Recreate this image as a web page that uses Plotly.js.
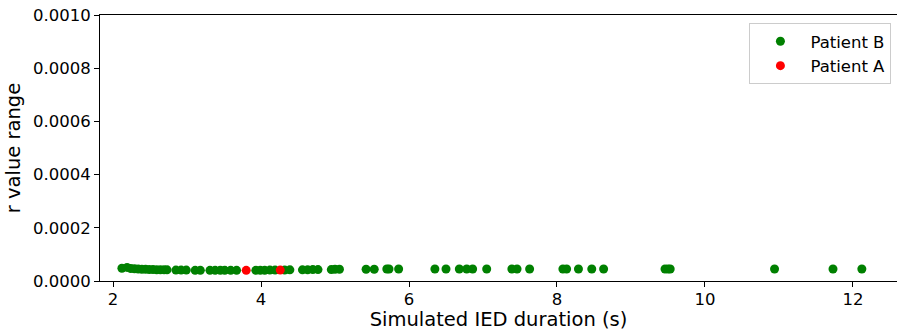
<!DOCTYPE html>
<html>
<head>
<meta charset="utf-8">
<script src="https://cdn.plot.ly/plotly-3.0.1.min.js"></script>
<style>
  html, body { margin: 0; padding: 0; background: #fff; }
  #chart { width: 897px; height: 331px; }
</style>
</head>
<body>
<div id="chart"></div>
<script>
// Simulated IED duration (s) and r value range, per patient
const durationB = [2.12, 2.19, 2.24, 2.29, 2.34, 2.39, 2.44, 2.49, 2.54, 2.59, 2.64, 2.69, 2.73,
  2.85, 2.92, 2.99, 3.11, 3.18, 3.31, 3.38, 3.45, 3.51, 3.59, 3.67,
  3.93, 3.99, 4.05, 4.12, 4.19, 4.32, 4.39, 4.56, 4.63, 4.70, 4.77, 4.95, 5.00, 5.06,
  5.42, 5.53, 5.70, 5.73, 5.86, 6.35, 6.50, 6.68, 6.78, 6.86, 7.05, 7.39, 7.46, 7.63,
  8.08, 8.13, 8.29, 8.47, 8.63, 9.46, 9.50, 9.53, 10.94, 11.73, 12.12];
const rangeB = [0.000048, 0.000051, 0.000047, 0.000046, 0.000045, 0.000044, 0.000044, 0.000043, 0.000043, 0.000042, 0.000042, 0.000042, 0.000042,
  0.000041, 0.000041, 0.000041, 0.000040, 0.000040, 0.000040, 0.000040, 0.000040, 0.000040, 0.000040, 0.000040,
  0.000040, 0.000040, 0.000040, 0.000041, 0.000041, 0.000041, 0.000042, 0.000042, 0.000042, 0.000043, 0.000043, 0.000043, 0.000044, 0.000044,
  0.000044, 0.000044, 0.000045, 0.000045, 0.000045, 0.000045, 0.000045, 0.000045, 0.000045, 0.000045, 0.000045, 0.000045, 0.000045, 0.000045,
  0.000045, 0.000045, 0.000045, 0.000045, 0.000045, 0.000045, 0.000045, 0.000045, 0.000045, 0.000045, 0.000045];
const durationA = [3.80, 4.26];
const rangeA = [0.000040, 0.000041];

const yTicks = [0, 0.0002, 0.0004, 0.0006, 0.0008, 0.0010];
const yTickText = ['0.0000', '0.0002', '0.0004', '0.0006', '0.0008', '0.0010'];
const xTicks = [2, 4, 6, 8, 10, 12];

const font = 'DejaVu Sans, sans-serif';

const traces = [
  { x: durationB, y: rangeB, name: 'Patient B', type: 'scatter', mode: 'markers',
    marker: { color: 'green', size: 9 } },
  { x: durationA, y: rangeA, name: 'Patient A', type: 'scatter', mode: 'markers',
    marker: { color: 'red', size: 9 } }
];

const layout = {
  width: 897, height: 331,
  margin: { l: 100, r: 0, t: 15, b: 50 },
  paper_bgcolor: '#fff', plot_bgcolor: '#fff',
  font: { family: font, size: 16, color: '#000' },
  showlegend: true,
  legend: {
    x: 0.993, y: 0.97, xanchor: 'right', yanchor: 'top',
    bgcolor: 'rgba(255,255,255,0.8)', bordercolor: '#cccccc', borderwidth: 1,
    font: { family: font, size: 16.5, color: '#000' },
    itemwidth: 50,
    tracegroupgap: 4
  },
  xaxis: {
    range: [1.824, 12.595],
    tickvals: xTicks,
    ticks: 'outside', ticklen: 5, tickwidth: 1, tickcolor: '#000',
    ticklabelstandoff: -2,
    showgrid: false, zeroline: false,
    showline: true, linecolor: '#000', linewidth: 1, mirror: true,
    tickfont: { family: font, size: 16.5 },
    title: { text: 'Simulated IED duration (s)', font: { family: font, size: 19.5 }, standoff: 7 }
  },
  yaxis: {
    range: [0, 0.001],
    tickvals: yTicks, ticktext: yTickText,
    ticks: 'outside', ticklen: 5, tickwidth: 1, tickcolor: '#000',
    showgrid: false, zeroline: false,
    showline: true, linecolor: '#000', linewidth: 1, mirror: true,
    tickfont: { family: font, size: 16.5 },
    title: { text: 'r value range', font: { family: font, size: 19.5 }, standoff: 7 }
  }
};

Plotly.newPlot('chart', traces, layout, { displayModeBar: false, staticPlot: true });
</script>
</body>
</html>
